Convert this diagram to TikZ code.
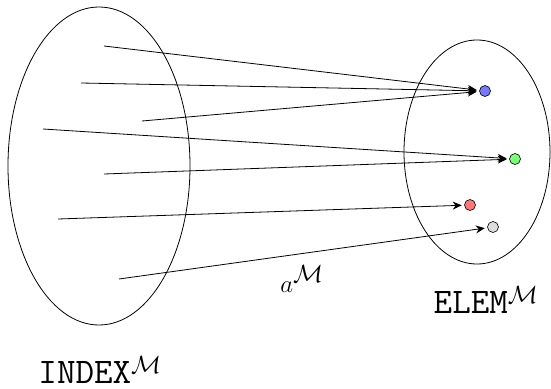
\documentclass[tikz,border=0pt]{standalone}
\usetikzlibrary{arrows.meta}
\begin{document}
\begin{tikzpicture}[x=1pt,y=-1pt,
  set/.style={draw,line width=0.8pt},
  dot/.style={circle,draw,line width=0.6pt,inner sep=0pt,minimum size=11pt},
  map/.style={line width=0.8pt,-{Stealth[length=9pt,width=8pt]},shorten >=2.5pt},
  lbl/.style={font=\fontsize{36}{40}\selectfont,inner sep=0pt}]
\useasboundingbox (0,0) rectangle (551,388);
\draw[set] (99,166) ellipse [x radius=91, y radius=159];
\draw[set] (477,152) ellipse [x radius=73, y radius=112];
\node[dot,fill={rgb,255:red,119;green,119;blue,255}] (b) at (485,91) {};
\node[dot,fill={rgb,255:red,119;green,255;blue,119}] (g) at (515,159) {};
\node[dot,fill={rgb,255:red,255;green,119;blue,119}] (r) at (470,205) {};
\node[dot,fill={rgb,255:red,221;green,221;blue,221}] (w) at (493,227) {};
\coordinate (s1) at (104,46);
\coordinate (s2) at (81,83);
\coordinate (s3) at (142,121);
\coordinate (s4) at (43,129);
\coordinate (s5) at (104,174);
\coordinate (s6) at (58,219);
\coordinate (s7) at (119,279);
\draw[map] (s1) -- (b);
\draw[map] (s2) -- (b);
\draw[map] (s3) -- (b);
\draw[map] (s4) -- (g);
\draw[map] (s5) -- (g);
\draw[map] (s6) -- (r);
\draw[map] (s7) -- (w);
\node[lbl] (am) at (302,279) {$a^{\mathcal{M}}$};
\node[lbl] (elem) at (486,300) {\texttt{ELEM}$^{\mathcal{M}}$};
\node[lbl] (index) at (100,370) {\texttt{INDEX}$^{\mathcal{M}}$};
\end{tikzpicture}
\end{document}
